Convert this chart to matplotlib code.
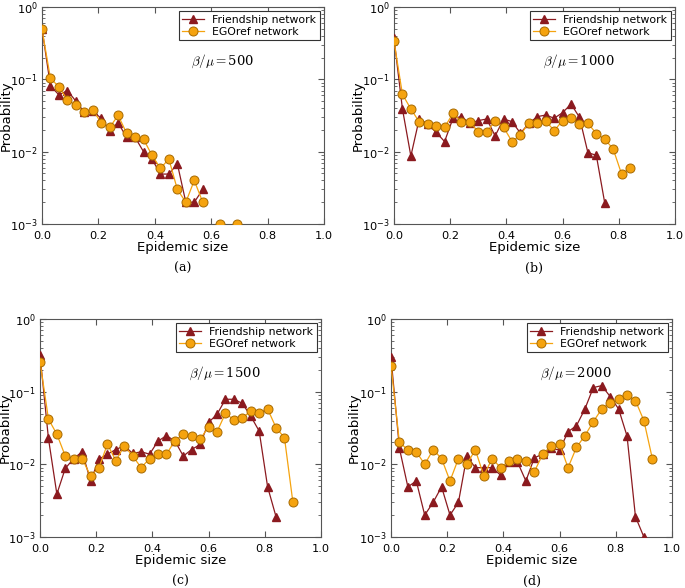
import numpy as np
import matplotlib
matplotlib.use("Agg")
import matplotlib.pyplot as plt

nan = np.nan
step = 0.03

# panel (a) beta/mu = 500
fr_a = [0.50, 0.081, 0.061, 0.070, 0.050, 0.035, 0.036, 0.029, 0.0195, 0.025,
        0.0158, 0.0158, 0.010, 0.0079, 0.0049, 0.0049, 0.0068, 0.002, 0.002, 0.003]
eg_a = [0.49, 0.103, 0.079, 0.052, 0.044, 0.035, 0.038, 0.025, 0.0217, 0.0318,
        0.018, 0.0158, 0.0149, 0.0089, 0.0059, 0.0079, 0.003, 0.002, 0.004, 0.002,
        nan, 0.001, nan, 0.001]

# panel (b) beta/mu = 1000
fr_b = [0.37, 0.039, 0.0087, 0.0286, 0.024, 0.0185, 0.0138, 0.029, 0.0305, 0.0247,
        0.0269, 0.0283, 0.0165, 0.0283, 0.026, 0.018, 0.0247, 0.0305, 0.0321, 0.029,
        0.0346, 0.0456, 0.0299, 0.0097, 0.0089, 0.00195]
eg_b = [0.336, 0.062, 0.039, 0.0257, 0.0239, 0.0227, 0.0217, 0.034, 0.0257, 0.0257,
        0.0187, 0.0187, 0.0266, 0.0217, 0.0138, 0.017, 0.0252, 0.0247, 0.0266, 0.0195,
        0.0269, 0.0295, 0.024, 0.0247, 0.0178, 0.0149, 0.0109, 0.0049, 0.0059]

# panel (c) beta/mu = 1500
fr_c = [0.32, 0.0228, 0.0039, 0.0088, 0.012, 0.0149, 0.0059, 0.0118, 0.0138, 0.016,
        0.018, 0.0141, 0.0149, 0.0138, 0.0209, 0.0248, 0.021, 0.013, 0.016, 0.0188,
        0.0378, 0.0488, 0.0786, 0.0786, 0.069, 0.046, 0.0287, 0.0049, 0.0019]
eg_c = [0.26, 0.042, 0.026, 0.013, 0.012, 0.012, 0.0069, 0.009, 0.019, 0.0112,
        0.018, 0.013, 0.009, 0.012, 0.0138, 0.0138, 0.021, 0.026, 0.0248, 0.0223,
        0.0327, 0.0281, 0.0504, 0.0408, 0.043, 0.0548, 0.0514, 0.0578, 0.032, 0.0232,
        0.003]

# panel (d) beta/mu = 2000
fr_d = [0.296, 0.0166, 0.0049, 0.0059, 0.002, 0.003, 0.0049, 0.002, 0.003, 0.013,
        0.009, 0.009, 0.009, 0.0071, 0.0108, 0.0108, 0.0059, 0.0123, 0.0138, 0.0166,
        0.0157, 0.0281, 0.034, 0.0578, 0.114, 0.121, 0.0856, 0.0578, 0.0245, 0.0019,
        0.001, 0.0007]
eg_d = [0.229, 0.020, 0.0159, 0.0149, 0.010, 0.0159, 0.012, 0.0059, 0.012, 0.010,
        0.0159, 0.007, 0.012, 0.009, 0.0112, 0.012, 0.0112, 0.0079, 0.0138, 0.018,
        0.019, 0.009, 0.0171, 0.0248, 0.0387, 0.0578, 0.0707, 0.0787, 0.0902, 0.0753,
        0.0399, 0.012]

ratios = ["500", "1000", "1500", "2000"]
letters = ["(a)", "(b)", "(c)", "(d)"]
friend = [fr_a, fr_b, fr_c, fr_d]
ego = [eg_a, eg_b, eg_c, eg_d]

red = "#8b1a1f"
orange = "#f5a30f"
spine = "#555555"

W, H = 685.0, 588.0
# axes boxes in pixels: left, right, top, bottom
boxes = [(42, 324, 7, 224), (394, 675, 7, 224), (40, 321, 319, 537), (391, 672, 319, 537)]
ylab_x = [13, 365, 12, 361]   # right edge of the rotated y label

fig = plt.figure(figsize=(6.85, 5.88), dpi=100)

for k in range(4):
    l, r, t, b = boxes[k]
    ax = fig.add_axes([l / W, 1 - b / H, (r - l) / W, (b - t) / H])
    yf = np.array(friend[k])
    ye = np.array(ego[k])
    ax.plot(np.arange(len(yf)) * step, yf, '-^', color=red, lw=0.9, ms=5.5,
            mec=red, mfc=red, label="Friendship network", zorder=3)
    ax.plot(np.arange(len(ye)) * step, ye, '-o', color=orange, lw=0.9, ms=6.5,
            mec="#a86a00", mew=0.7, mfc=orange, label="EGOref network", zorder=4)
    ax.set_yscale("log")
    ax.set_ylim(1e-3, 1)
    ax.set_xlim(0, 1)
    ax.set_xticks([0, 0.2, 0.4, 0.6, 0.8, 1.0])
    ax.set_xticklabels(["0.0", "0.2", "0.4", "0.6", "0.8", "1.0"])
    ax.set_yticks([1e-3, 1e-2, 1e-1, 1])
    ax.set_yticklabels([r"$10^{-3}$", r"$10^{-2}$", r"$10^{-1}$", r"$10^{0}$"])
    ax.tick_params(which="both", direction="in", top=True, right=True, labelsize=8.2,
                   color=spine)
    ax.tick_params(axis="x", pad=5)
    ax.tick_params(axis="y", pad=3)
    ax.tick_params(which="major", length=4)
    ax.tick_params(which="minor", length=2)
    for s in ax.spines.values():
        s.set_color(spine)
    ax.set_xlabel("Epidemic size", fontsize=9.5, labelpad=0)
    ax.set_ylabel("Probability", fontsize=9.5)
    ax.yaxis.set_label_coords((ylab_x[k] - l) / (r - l), 0.5)
    leg = ax.legend(loc="upper right", fontsize=7.8, fancybox=False, framealpha=1,
                    borderpad=0.3, handlelength=2.0, labelspacing=0.2,
                    borderaxespad=0.4)
    leg.get_frame().set_edgecolor("#333333")
    leg.get_frame().set_linewidth(0.8)
    ax.text(0.53, 0.75, r"$\beta/\mu=$" + ratios[k], transform=ax.transAxes,
            fontsize=9.5, math_fontfamily="cm", family="DejaVu Serif", va="center")
    fig.text((l + r) / 2 / W, 1 - (b + 44) / H, letters[k], ha="center", va="center",
             fontsize=9, family="DejaVu Serif")

fig.savefig("out.png", dpi=100)
